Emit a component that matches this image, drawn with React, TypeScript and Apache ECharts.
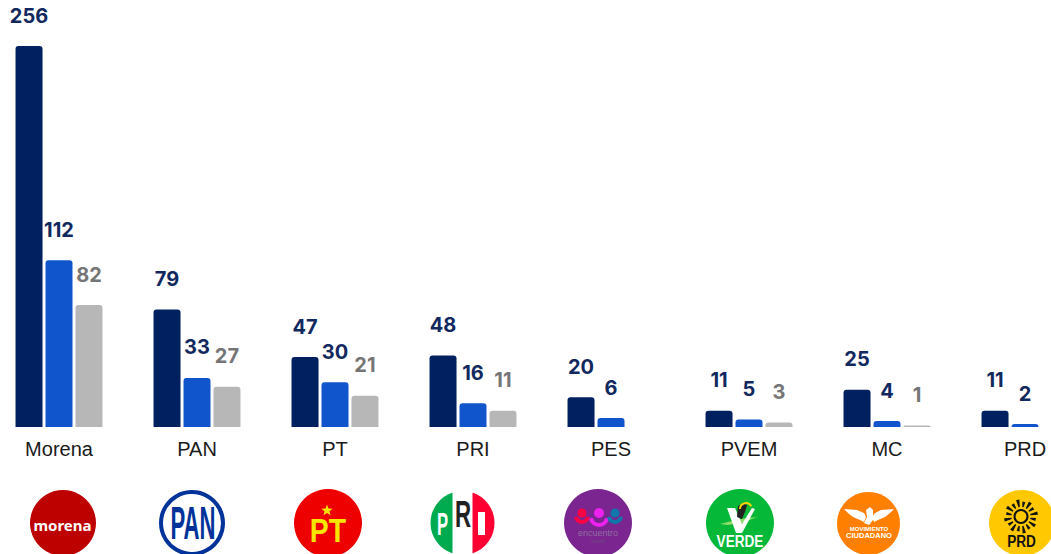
import React, { useEffect, useRef } from "react";
import * as echarts from "echarts";

const parties = ["Morena", "PAN", "PT", "PRI", "PES", "PVEM", "MC", "PRD"];
const navySeats = [256, 79, 47, 48, 20, 11, 25, 11];
const blueSeats = [112, 33, 30, 16, 6, 5, 4, 2];
const greySeats = [82, 27, 21, 11, null, 3, 1, null];

const NAVY = "#002060";
const BLUE = "#1155cc";
const GREY = "#b7b7b7";
const SANS = "'Liberation Sans', Arial, sans-serif";
const NUM = "Inter, 'Open Sans', sans-serif";

const T = (x: number, y: number, text: string, fill: string, fontSize: number, scaleX = 1, fontWeight: any = "bold", fontFamily = SANS, extra: any = {}) => ({
  type: "text", x, y, scaleX, silent: true,
  style: { text, fill, fontSize, fontWeight, fontFamily, align: "center", verticalAlign: "middle", ...extra },
});
const C = (cx: number, cy: number, r: number, fill: string, extra: any = {}) => ({
  type: "circle", shape: { cx, cy, r }, silent: true, style: { fill, ...extra },
});
const P = (points: number[][], fill: string) => ({
  type: "polygon", silent: true, shape: { points }, style: { fill },
});
const A = (cx: number, cy: number, r: number, stroke: string, lineWidth: number) => ({
  type: "arc", silent: true,
  shape: { cx, cy, r, startAngle: 0.15, endAngle: Math.PI - 0.15 },
  style: { stroke, lineWidth, fill: "none" },
});
function star(cx: number, cy: number, R: number, fill: string) {
  const pts: number[][] = [];
  for (let i = 0; i < 10; i++) {
    const r = i % 2 ? R * 0.42 : R;
    const a = -Math.PI / 2 + (i * Math.PI) / 5;
    pts.push([cx + r * Math.cos(a), cy + r * Math.sin(a)]);
  }
  return P(pts, fill);
}
function sunRays(cx: number, cy: number, fill: string) {
  const out: any[] = [];
  const n = 16;
  for (let i = 0; i < n; i++) {
    const a = (i * 2 * Math.PI) / n + Math.PI / n;
    const r0 = 9.5, r1 = i % 2 ? 17 : 15, w0 = 0.07, w1 = 0.1;
    out.push(P([
      [cx + r0 * Math.cos(a - w0), cy + r0 * Math.sin(a - w0)],
      [cx + r1 * Math.cos(a - w1), cy + r1 * Math.sin(a - w1)],
      [cx + r1 * Math.cos(a + w1), cy + r1 * Math.sin(a + w1)],
      [cx + r0 * Math.cos(a + w0), cy + r0 * Math.sin(a + w0)],
    ], fill));
  }
  return out;
}

function logos(): any[] {
  const cy = 523;
  return [
    // Morena
    C(63, cy, 33, "#bd0000"),
    T(62.5, 525, "morena", "#ffffff", 15, 1, "bold", "'Noto Sans', sans-serif"),
    // PAN
    C(192, cy, 31, "#ffffff", { stroke: "#003399", lineWidth: 4 }),
    T(193, 523, "PAN", "#003399", 47, 0.47),
    // PT
    C(328, cy, 34, "#ee0000"),
    star(327, 510.5, 6, "#f7e600"),
    T(328, 531, "PT", "#f7e600", 33, 0.86),
    // PRI
    C(462.5, 523, 32, "#ffffff"),
    { type: "sector", silent: true, shape: { cx: 462.5, cy: 523, r: 32, r0: 0, startAngle: Math.PI * 0.6, endAngle: Math.PI * 1.4 }, style: { fill: "#00ab50" } },
    { type: "sector", silent: true, shape: { cx: 462.5, cy: 523, r: 32, r0: 0, startAngle: -Math.PI * 0.4, endAngle: Math.PI * 0.4 }, style: { fill: "#ff0033" } },
    { type: "rect", silent: true, shape: { x: 452.5, y: 491, width: 20, height: 64 }, style: { fill: "#ffffff" } },
    T(442.5, 524, "P", "#ffffff", 32, 0.52),
    T(463, 514, "R", "#222222", 36, 0.62),
    { type: "rect", silent: true, shape: { x: 478, y: 512, width: 7, height: 23 }, style: { fill: "#ffffff" } },
    // PES
    C(598, cy, 34, "#7b2590"),
    C(582, 513, 4.5, "#ff0044"), C(599, 513, 5, "#ee22ee"), C(615, 513, 4.5, "#1177aa"),
    A(582, 516, 6, "#ff0044", 4), A(599, 517, 8, "#ee22ee", 4), A(615, 516, 6, "#1177aa", 4),
    T(598, 533, "encuentro", "#8f6fa0", 9, 1, "normal"),
    T(598, 541, "social", "#6f4a80", 5.5, 1, "normal"),
    // PVEM
    C(740, cy, 34, "#06b837"),
    P([[720, 524], [740, 519], [757, 517], [742, 523], [728, 525]], "#8fdc6a"),
    P([[727, 508], [735, 508], [742, 524], [752, 508], [755, 509], [742, 533], [736, 533]], "#ffffff"),
    P([[737, 517], [738, 506], [743, 503], [747, 505], [745, 512], [742, 519]], "#222222"),
    { type: "arc", silent: true, shape: { cx: 746, cy: 509, r: 6, startAngle: Math.PI, endAngle: Math.PI * 1.85 }, style: { stroke: "#f2d500", lineWidth: 2, fill: "none" } },
    T(740, 541, "VERDE", "#ffffff", 17, 0.8),
    // MC
    C(868.5, 523.5, 31.5, "#ff7f00"),
    P([[844, 509], [857, 510], [864, 513], [866, 517], [864, 522], [860, 520], [853, 517], [848, 513]], "#ffffff"),
    P([[894, 509], [881, 510], [875, 513], [872, 517], [874, 522], [878, 520], [885, 517], [890, 513]], "#ffffff"),
    P([[866, 510], [870, 507], [873, 510], [873, 520], [869, 525], [864, 523], [867, 517]], "#ffffff"),
    T(869, 529, "MOVIMIENTO", "#ffffff", 6, 1),
    T(869, 535.5, "CIUDADANO", "#ffffff", 7.5, 1),
    // PRD
    C(1022, 523, 33, "#ffc800"),
    ...sunRays(1021, 516.5, "#111111"),
    C(1021, 516.5, 6.5, "none", { stroke: "#111111", lineWidth: 2 }),
    T(1021.5, 541, "PRD", "#111111", 17, 0.8),
  ];
}

export default function App() {
  const ref = useRef<HTMLDivElement>(null);
  useEffect(() => {
    document.body.style.margin = "0";
    const chart = echarts.init(ref.current!, undefined, { renderer: "svg" });
    const label = (color: string) => ({
      show: true, position: "top" as const, distance: 20.5, color,
      fontFamily: NUM, fontWeight: "bold" as const, fontSize: 20,
    });
    const series = (data: any[], color: string, labelColor: string) => ({
      type: "bar" as const, data, barWidth: 27, barGap: "11%", silent: true,
      itemStyle: { color, borderRadius: [3, 3, 0, 0] },
      label: label(labelColor),
    });
    chart.setOption({
      animation: false,
      backgroundColor: "#ffffff",
      grid: { left: -10, right: -43, top: 0, bottom: 127, outerBoundsMode: "none", containLabel: false },
      xAxis: {
        type: "category", data: parties,
        axisLine: { show: false }, axisTick: { show: false },
        axisLabel: { color: "#1a1a1a", fontFamily: SANS, fontSize: 20, margin: 12, hideOverlap: false, interval: 0 },
      },
      yAxis: { type: "value", min: 0, max: 287, show: false, splitLine: { show: false } },
      series: [
        series(navySeats, NAVY, "#12295f"),
        series(blueSeats, BLUE, "#12295f"),
        series(greySeats, GREY, "#757575"),
      ],
      graphic: { elements: logos() },
    });
    return () => chart.dispose();
  }, []);
  return <div ref={ref} style={{ width: 1051, height: 554 }} />;
}
